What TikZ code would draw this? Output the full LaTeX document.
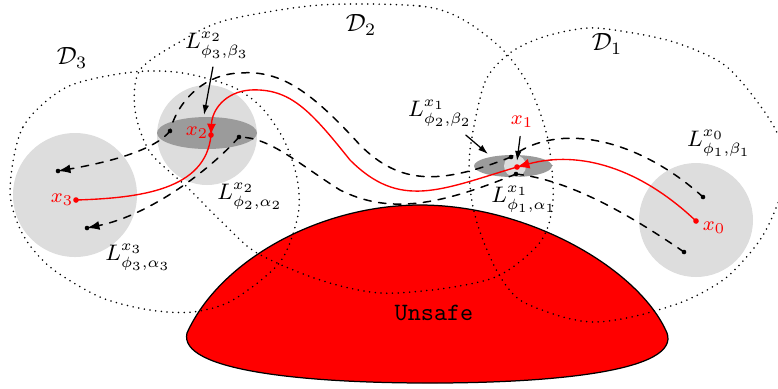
\documentclass[tikz,border=0pt]{standalone}
\usepackage{amsmath, amssymb}
\usepackage{xcolor}
\usepackage{tikz}
\usetikzlibrary{calc, arrows.meta}

\definecolor{ballgray}{RGB}{221,221,221}
\definecolor{levelgray}{RGB}{155,155,155}

\begin{document}
\begin{tikzpicture}[
        x=0.0141cm,
        y=-0.0141cm,
        line join=round,
        line cap=round,
        region/.style={line width=0.7pt, dash pattern=on 0pt off 2.3pt},
        traj/.style={dashed, line width=0.6pt},
        redtraj/.style={red, line width=0.55pt},
        levlabel/.style={font=\small},
        ptlabel/.style={red, font=\footnotesize},
        pointer/.style={-{Latex[length=4pt,width=2.6pt]}, line width=0.5pt}
    ]

        \useasboundingbox (0,0) rectangle (778,388);

        % =================================
        % VUNG KHONG AN TOAN
        % =================================
        \fill[red, draw=black, line width=0.5pt]
            (187,333) .. controls (220,260) and (320,205) .. (420,205)
            .. controls (530,205) and (640,270) .. (667,333)
            .. controls (680,370) and (560,383) .. (430,383)
            .. controls (300,383) and (178,370) .. (187,333);
        \node (unsafe) at (434,313) {\texttt{Unsafe}};


        % =================================
        % CAC MIEN D1, D2, D3
        % =================================

        % D3
        \draw[region] plot[smooth cycle] coordinates {
            (10,190) (23,127) (67,87) (133,72) (183,73) (233,87)
            (262,108) (284,140) (297,178) (298,215) (280,262)
            (233,300) (193,312) (150,310) (100,297) (50,267) (22,233)};

        % D2
        \draw[region] plot[smooth cycle] coordinates {
            (320,5) (420,6) (462,19) (503,50) (530,88) (548,140)
            (553,200) (541,241) (500,275) (447,288) (380,293)
            (320,280) (257,253) (222,222) (187,187) (150,152)
            (135,110) (140,70) (183,40) (227,20)};

        % D1
        \draw[region] plot[smooth cycle] coordinates {
            (470,150) (485,82) (510,53) (543,37) (587,28) (627,32)
            (677,43) (727,67) (770,120) (788,165) (778,203)
            (760,240) (727,277) (687,300) (640,315) (597,322)
            (563,317) (520,300) (498,273) (480,232) (471,195)};


        % =================================
        % CAC TAP MUC
        % =================================
        \fill[ballgray] (75,195) circle (62);
        \fill[ballgray] (207,135) circle (50);
        \fill[ballgray] (696,220) circle (57);

        \fill[levelgray] (207,133) ellipse [x radius=50, y radius=16];
        \fill[levelgray] (513,166) ellipse [x radius=39, y radius=11];
        \fill[ballgray] (515,166) circle (11);


        % =================================
        % CAC DIEM
        % =================================
        \coordinate (x0) at (696,221);
        \coordinate (x1) at (517,167);
        \coordinate (x2) at (211,135);
        \coordinate (x3) at (76,200);

        \coordinate (u0) at (703,197);
        \coordinate (l0) at (684,252);
        \coordinate (u1) at (511,157);
        \coordinate (l1) at (516,174);
        \coordinate (u2) at (170,131);
        \coordinate (l2) at (239,137);
        \coordinate (u3) at (58,171);
        \coordinate (l3) at (87,228);


        % =================================
        % QUY DAO BIEN (NET DUT)
        % =================================

        % nhanh tren
        \draw[traj]
            (u0) .. controls (640,140) and (560,120) .. (u1);
        \draw[traj]
            (u1) .. controls (440,185) and (400,185) .. (360,145)
            .. controls (310,90) and (280,70) .. (240,73)
            .. controls (205,74) and (178,100) .. (u2);
        \draw[traj, -{Latex[length=5pt,width=3.6pt]}]
            (u2) .. controls (155,150) and (110,162) .. (u3);

        % nhanh duoi
        \draw[traj]
            (l0) .. controls (630,215) and (570,180) .. (l1);
        \draw[traj]
            (l1) .. controls (440,205) and (390,215) .. (340,190)
            .. controls (300,165) and (270,137) .. (l2);
        \draw[traj, -{Latex[length=5pt,width=3.6pt]}]
            (l2) .. controls (210,170) and (150,215) .. (l3);


        % =================================
        % QUY DAO DO
        % =================================
        \draw[redtraj, -{Latex[length=5pt,width=4pt]}]
            (x0) .. controls (640,168) and (580,150) .. (x1);
        \draw[redtraj, -{Latex[length=4.5pt,width=3.6pt]}]
            (x1) .. controls (440,190) and (400,210) .. (350,160)
            .. controls (310,110) and (290,88) .. (250,90)
            .. controls (225,92) and (212,110) .. (x2);
        \draw[redtraj]
            (x2) .. controls (206,190) and (140,198) .. (x3);

        % cac cham
        \foreach \p in {u0,l0,u1,l1,u2,l2,u3,l3}
            \fill (\p) circle (2.3);
        \foreach \p in {x0,x1,x2,x3}
            \fill[red] (\p) circle (2.8);


        % =================================
        % NHAN
        % =================================
        \node (D3) at (72,58) {$\mathcal{D}_3$};
        \node (D2) at (361,25) {$\mathcal{D}_2$};
        \node (D1) at (607,44) {$\mathcal{D}_1$};

        \node[levlabel] (Lb3) at (217,45) {$L^{x_2}_{\phi_3,\beta_3}$};
        \node[levlabel] (La2) at (250,196) {$L^{x_2}_{\phi_2,\alpha_2}$};
        \node[levlabel] (La3) at (138,257) {$L^{x_3}_{\phi_3,\alpha_3}$};
        \node[levlabel] (Lb2) at (440,113) {$L^{x_1}_{\phi_2,\beta_2}$};
        \node[levlabel] (La1) at (524,199) {$L^{x_1}_{\phi_1,\alpha_1}$};
        \node[levlabel] (Lb1) at (719,143) {$L^{x_0}_{\phi_1,\beta_1}$};

        \node[ptlabel] (nx0) at (714,228) {$x_0$};
        \node[ptlabel] (nx1) at (522,122) {$x_1$};
        \node[ptlabel] (nx2) at (197,133) {$x_2$};
        \node[ptlabel] (nx3) at (62,200) {$x_3$};

        % mui ten chi
        \coordinate (tb3) at (204,115);
        \coordinate (tb2) at (488,154);
        \coordinate (tx1) at (517,161);
        \draw[pointer] (Lb3) -- (tb3);
        \draw[pointer] (Lb2) -- (tb2);
        \draw[pointer] (nx1) -- (tx1);

    \end{tikzpicture}
\end{document}
